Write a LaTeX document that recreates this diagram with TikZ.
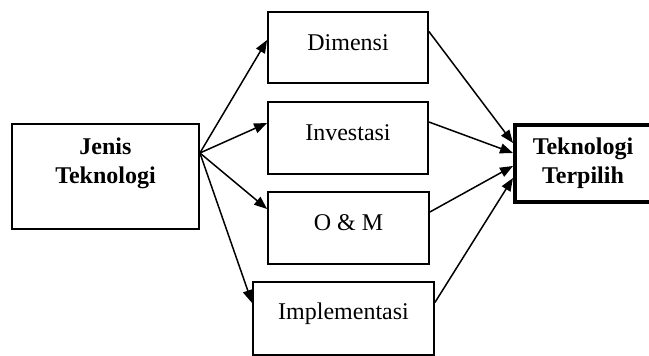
\documentclass[tikz,border=0pt,12pt]{standalone}
\usepackage{fontspec}
\setmainfont{Liberation Serif}
\usetikzlibrary{arrows.meta}

\begin{document}
\begin{tikzpicture}[x=0.5pt, y=-0.5pt,
    kotak/.style={draw, line width=0.9pt, inner sep=0pt},
    teks/.style={anchor=base, yshift=2.5pt},
    panah/.style={line width=0.75pt, -{Triangle[length=6.5pt,width=5pt]}}]
  \useasboundingbox (0,0) rectangle (649,356);
  \begin{scope}
    % kotak kiri dan kanan
    \node[kotak, minimum width=93.5pt, minimum height=52.5pt,
      label={[align=center, font=\bfseries, yshift=6.5pt]center:Jenis\\Teknologi}] (jenis) at (105.5,176.5) {};
    \node[draw, line width=2pt, inner sep=0pt, minimum width=68pt, minimum height=38.5pt,
      align=center, font=\bfseries] (terpilih) at (583,163.5) {Teknologi\\Terpilih};

    % kriteria
    \node[kotak, minimum width=80pt, minimum height=35.5pt, label={[teks]center:Dimensi}] (dimensi) at (348,47.5) {};
    \node[kotak, minimum width=80pt, minimum height=36pt, label={[teks]center:Investasi}] (investasi) at (348,138) {};
    \node[kotak, minimum width=80.5pt, minimum height=36pt, label={[teks]center:O \& M}] (om) at (348.5,228) {};
    \node[kotak, minimum width=90.5pt, minimum height=36.5pt, label={[teks]center:Implementasi}] (implementasi) at (343.5,318.5) {};

    \coordinate (pangkal) at ([yshift=11.75pt]jenis.east);
    \draw[panah] (pangkal) -- ([yshift=3.75pt]dimensi.west);
    \draw[panah] (pangkal) -- ([yshift=7.5pt]investasi.west);
    \draw[panah] (pangkal) -- ([yshift=9.5pt]om.west);
    \draw[panah] (pangkal) -- ([yshift=7.75pt]implementasi.west);

    \draw[panah] ([yshift=8pt]dimensi.east) -- ([yshift=10.25pt]terpilih.west);
    \draw[panah] ([yshift=8pt]investasi.east) -- ([yshift=5.25pt]terpilih.west);
    \draw[panah] ([yshift=8pt]om.east) -- ([yshift=-1.25pt]terpilih.west);
    \draw[panah] ([yshift=8pt]implementasi.east) -- ([yshift=-7.25pt]terpilih.west);
  \end{scope}
\end{tikzpicture}
\end{document}
